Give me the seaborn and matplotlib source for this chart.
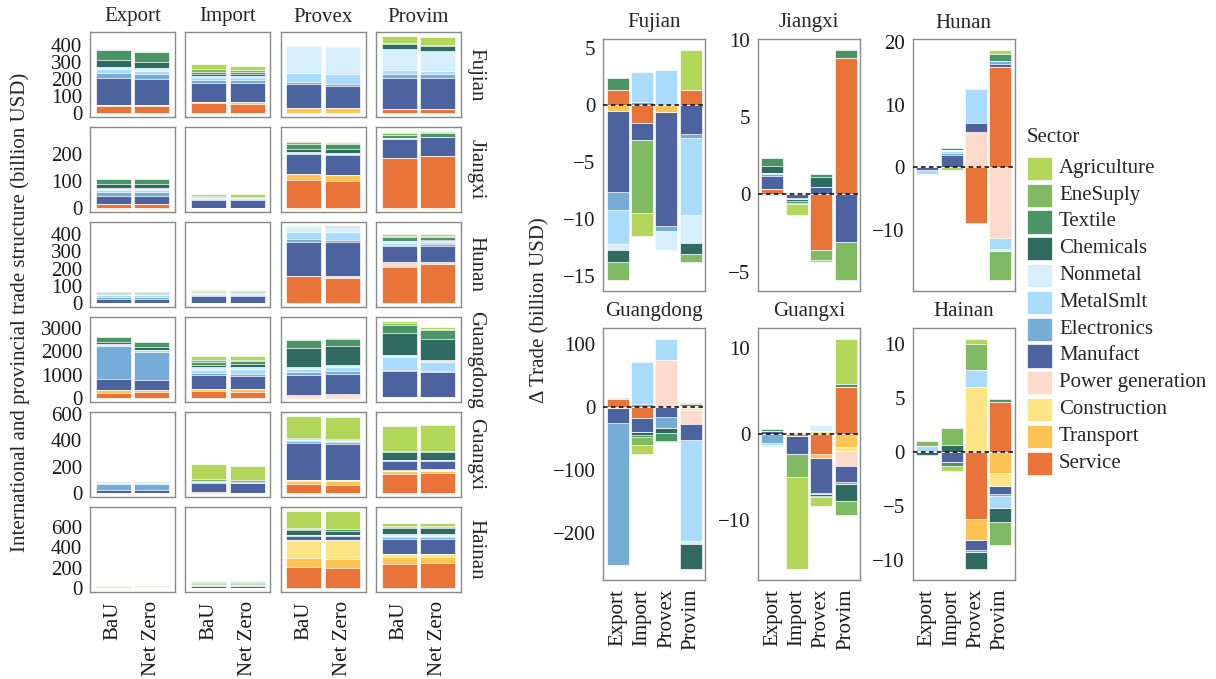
import numpy as np
import pandas as pd
import matplotlib
matplotlib.use("Agg")
import matplotlib.pyplot as plt
from matplotlib.patches import Rectangle
import seaborn as sns

# ---------------- data ----------------
sectors = ["Agriculture", "EneSuply", "Textile", "Chemicals", "Nonmetal", "MetalSmlt",
           "Electronics", "Manufact", "Power generation", "Construction", "Transport", "Service"]
sector_colors = ["#B2D65A", "#80BA62", "#4A9465", "#2F6B61", "#D7EEFC", "#A8DBFC",
                 "#75ACD8", "#4D63A0", "#FDDACB", "#FDE484", "#FDC454", "#E8743A"]
provinces = ["Fujian", "Jiangxi", "Hunan", "Guangdong", "Guangxi", "Hainan"]
trades = ["Export", "Import", "Provex", "Provim"]
scenarios = ["BaU", "Net Zero"]

# BaU trade by sector (billion USD); rows = Export, Import, Provex, Provim; columns follow `sectors`
fujian_bau = [[0, 3, 58, 39, 15, 23, 31, 156, 0, 0, 7, 43],
              [27, 18, 12, 12, 7, 15, 20, 110, 0, 0, 10, 58],
              [0, 0, 0, 0, 160, 53, 16, 138, 0, 0, 31, 0],
              [42, 3, 3, 31, 121, 23, 25, 185, 0, 0, 0, 23]]
jiangxi_bau = [[0, 0, 18, 15, 6, 7, 15, 29, 0, 0, 0, 16],
               [9, 2, 1, 2, 2, 3, 4, 29, 0, 0, 0, 0],
               [5, 5, 18, 13, 2, 2, 2, 74, 0, 0, 24, 102],
               [3, 8, 12, 0, 1, 1, 1, 72, 0, 0, 0, 183]]
hunan_bau = [[0, 0, 7, 3, 8, 12, 10, 25, 0, 0, 0, 0],
             [6, 4, 5, 4, 4, 6, 8, 39, 0, 0, 0, 0],
             [0, 1, 2, 2, 29, 40, 14, 197, 5, 0, 0, 155],
             [10, 10, 19, 4, 8, 12, 10, 93, 27, 0, 0, 209]]
guangdong_bau = [[0, 10, 200, 110, 30, 60, 1420, 460, 0, 0, 110, 230],
                 [185, 60, 120, 120, 100, 145, 100, 570, 0, 0, 100, 300],
                 [10, 10, 345, 815, 70, 145, 130, 870, 70, 0, 0, 50],
                 [100, 60, 370, 940, 70, 570, 50, 1085, 30, 20, 10, 5]]
guangxi_bau = [[0, 1, 4, 4, 2, 8, 42, 25, 0, 0, 0, 0],
               [116, 15, 0, 8, 0, 0, 5, 71, 0, 0, 0, 5],
               [165, 4, 2, 2, 10, 10, 10, 278, 0, 12, 25, 66],
               [190, 3, 5, 58, 0, 0, 10, 66, 8, 3, 20, 147]]
hainan_bau = [[2, 4, 4, 2, 0, 2, 0, 0, 0, 0, 0, 4],
              [5, 12, 4, 17, 0, 3, 3, 22, 0, 0, 0, 0],
              [172, 5, 13, 45, 0, 5, 3, 42, 0, 179, 88, 205],
              [26, 10, 10, 65, 13, 16, 16, 147, 0, 33, 62, 241]]

# Change (Net Zero - BaU) by sector (billion USD)
fujian_delta = [[0, -1.5, 1.1, -1.1, -0.5, -3.0, -1.6, -7.1, 0, 0, -0.5, 1.3],
                [-2.0, -6.4, 0, 0.05, 0, 2.6, 0.3, -1.5, 0, 0, 0, -1.6],
                [0, 0, 0, 0, -1.7, 3.1, -0.4, -10.0, 0, 0, -0.6, 0],
                [3.5, -0.7, 0, -1.0, -2.5, -6.75, -0.35, -2.5, 0, 0, 0, 1.3]]
jiangxi_delta = [[0, 0, 0.5, 0.45, -0.1, 0.1, 0.1, 0.85, 0, 0, 0, 0.35],
                 [-0.7, -0.1, -0.15, -0.1, 0, 0.1, -0.1, -0.2, 0, 0, 0, 0],
                 [-0.1, -0.65, 0.15, 0.7, 0, 0, 0, 0.45, 0, 0, 0, -3.6],
                 [0, -2.4, 0.5, 0, 0, 0, 0, -3.1, 0, 0, 0, 8.8]]
hunan_delta = [[0, 0, 0, 0, 0, -0.7, 0, -0.4, 0, 0, 0, 0],
               [-0.4, 0, 0.3, 0, 0.15, 0.3, 0.3, 2.0, 0, 0, 0, 0],
               [0, -0.1, 0, 0, 0, 5.4, 0, 1.5, 5.6, 0, 0, -8.8],
               [0.5, -4.6, 1.2, 0, -0.2, -1.9, 0.4, 0.55, -11.2, 0, 0, 16.0]]
guangdong_delta = [[0, -1, 3, 0, 0, 0, -224, -24, 0, 0, -2, 12],
                   [-15, -13, -3, -4, 0, 68, 4, -23, 0, 0, 0, -17],
                   [0, -1, -13, -8, 0, 33, -17, -16, 74, 0, 0, 0],
                   [0, 2, 2, -39, -5, -159, 0, -26, -22, -3, -2, 2]]
guangxi_delta = [[0, -0.15, 0.2, 0, 0, -0.25, -1.0, 0.4, 0, 0, 0, 0],
                 [-10.6, -2.7, 0, 0, 0, 0.1, 0, -2.1, 0, 0, 0, -0.2],
                 [-1.0, 0, -0.15, -0.2, 0.7, 0, -0.2, -4.0, 0, 0.4, -0.5, -2.3],
                 [5.2, -1.7, 0.3, -1.9, 0, 0, -0.2, -1.9, -1.8, -0.4, -1.5, 5.5]]
hainan_delta = [[0, 0.5, 0, -0.3, 0, 0.4, 0, 0, 0, 0, 0, 0.1],
                [-0.5, 1.6, -0.4, 0.6, 0, 0, 0, -0.9, 0, 0, 0, 0],
                [0.4, 2.4, 0, -1.5, 0, 1.6, -0.2, -0.9, 0, 6.0, -2.0, -6.2],
                [0, -2.1, 0.3, -1.3, 0, -1.1, -0.2, -0.7, 0, -1.2, -2.0, 4.6]]

bau = dict(zip(provinces, [fujian_bau, jiangxi_bau, hunan_bau, guangdong_bau, guangxi_bau, hainan_bau]))
delta = dict(zip(provinces, [fujian_delta, jiangxi_delta, hunan_delta, guangdong_delta, guangxi_delta, hainan_delta]))

# ---------------- long tables ----------------
rows = []
for p in provinces:
    for ti, t in enumerate(trades):
        for si, s in enumerate(sectors):
            b = bau[p][ti][si]
            d = delta[p][ti][si]
            rows.append((p, t, "BaU", s, b))
            rows.append((p, t, "Net Zero", s, b + d))
level_df = pd.DataFrame(rows, columns=["province", "trade", "scenario", "sector", "value"])
drows = []
for p in provinces:
    for ti, t in enumerate(trades):
        for si, s in enumerate(sectors):
            drows.append((p, t, s, delta[p][ti][si]))
delta_df = pd.DataFrame(drows, columns=["province", "trade", "sector", "value"])

# stacking: bottom layer = last sector (Service); compute cumulative tops per sign
def stack_tops(df, group_cols):
    out = []
    for key, g in df.groupby(group_cols, sort=False):
        g = g.set_index("sector").reindex(sectors)
        vals = g["value"].to_numpy()
        pos = np.where(vals > 0, vals, 0.0)[::-1].cumsum()[::-1]
        neg = np.where(vals < 0, vals, 0.0)[::-1].cumsum()[::-1]
        for s, pv, nv in zip(sectors, pos, neg):
            rec = dict(zip(group_cols, key if isinstance(key, tuple) else (key,)))
            rec.update(sector=s, pos=pv, neg=nv)
            out.append(rec)
    return pd.DataFrame(out)

level_stack = stack_tops(level_df, ["province", "trade", "scenario"])
delta_stack = stack_tops(delta_df, ["province", "trade"])

# ---------------- style ----------------
sns.set_style("white")
plt.rcParams["font.family"] = ["Liberation Serif", "DejaVu Serif"]
plt.rcParams["axes.unicode_minus"] = True
FS = 15
BORDER = "#8a8a8a"
TICKC = "#555555"

W, H = 1216, 679
fig = plt.figure(figsize=(W / 100, H / 100), dpi=100)

def add_ax(left, top, w, h):
    return fig.add_axes([left / W, 1 - (top + h) / H, w / W, h / H])

def style_ax(ax):
    for sp in ax.spines.values():
        sp.set_color(BORDER)
        sp.set_linewidth(1.0)
        sp.set_visible(True)
    ax.tick_params(axis="both", colors=TICKC, labelcolor="#1a1a1a", labelsize=FS,
                   length=3.5, width=0.8, pad=2, direction="out")
    ax.set_xlabel("")
    ax.set_ylabel("")

def draw_stack(ax, data, xcol, order):
    common = dict(x=xcol, hue="sector", hue_order=sectors, palette=sector_colors,
                  order=order, dodge=False, width=0.9, errorbar=None, saturation=1,
                  edgecolor="white", linewidth=0.5, legend=False, ax=ax)
    sns.barplot(data=data, y="pos", **common)
    if (data["neg"] < 0).any():
        sns.barplot(data=data, y="neg", **common)

# ---------------- left: levels grid ----------------
left_ticks = {"Fujian": [0, 100, 200, 300, 400], "Jiangxi": [0, 100, 200],
              "Hunan": [0, 100, 200, 300, 400], "Guangdong": [0, 1000, 2000, 3000],
              "Guangxi": [0, 200, 400, 600], "Hainan": [0, 200, 400, 600]}
col_left = [90, 185.3, 280.6, 376]
row_top = [32 + 95 * i for i in range(6)]
PW, PH = 85, 85

for i, p in enumerate(provinces):
    sub_p = level_stack[level_stack["province"] == p]
    ymax = sub_p["pos"].max()
    for j, t in enumerate(trades):
        ax = add_ax(col_left[j], row_top[i], PW, PH)
        sub = sub_p[sub_p["trade"] == t]
        draw_stack(ax, sub, "scenario", scenarios)
        style_ax(ax)
        ax.set_xlim(-0.6, 1.6)
        ax.set_ylim(-0.05 * ymax, 1.05 * ymax)
        if j == 0:
            ax.set_yticks(left_ticks[p])
        else:
            ax.set_yticks([])
        if i == 5:
            ax.set_xticks([0, 1])
            ax.set_xticklabels(scenarios, rotation=90, va="top", ha="center")
            ax.tick_params(axis="x", pad=3)
        else:
            ax.set_xticks([])
        if i == 0:
            fig.text((col_left[j] + PW / 2) / W, 1 - 17 / H, t, ha="center", va="center", fontsize=FS)
    fig.text(476 / W, 1 - (row_top[i] + PH / 2) / H, p, rotation=-90, ha="center", va="center", fontsize=FS)

fig.text(20 / W, 1 - 312 / H, "International and provincial trade structure (billion USD)",
         rotation=90, ha="center", va="center", fontsize=FS)

# ---------------- right: change panels ----------------
right_ticks = {"Fujian": [-15, -10, -5, 0, 5], "Jiangxi": [-5, 0, 5, 10], "Hunan": [-10, 0, 10, 20],
               "Guangdong": [-200, -100, 0, 100], "Guangxi": [-10, 0, 10], "Hainan": [-10, -5, 0, 5, 10]}
rcol_left = [603, 757.8, 912.5]
rrow_top = [39, 328]
RW, RH = 102.5, 252

for k, p in enumerate(provinces):
    r, c = divmod(k, 3)
    ax = add_ax(rcol_left[c], rrow_top[r], RW, RH)
    sub = delta_stack[delta_stack["province"] == p]
    draw_stack(ax, sub, "trade", trades)
    style_ax(ax)
    ax.axhline(0, color="black", linestyle=(0, (3, 2.2)), linewidth=1.1, zorder=10)
    ymin, ymax = sub["neg"].min(), sub["pos"].max()
    rng = ymax - ymin
    ax.set_xlim(-0.6, 3.6)
    ax.set_ylim(ymin - 0.05 * rng, ymax + 0.05 * rng)
    ax.set_yticks(right_ticks[p])
    if r == 1:
        ax.set_xticks(range(4))
        ax.set_xticklabels(trades, rotation=90, va="top", ha="center")
        ax.tick_params(axis="x", pad=3)
    else:
        ax.set_xticks([])
    fig.text((rcol_left[c] + RW / 2) / W, 1 - (rrow_top[r] - 16) / H, p, ha="center", va="center", fontsize=FS)

fig.text(540 / W, 1 - 310 / H, "\u0394 Trade (billion USD)", rotation=90, ha="center", va="center", fontsize=FS)

# ---------------- legend ----------------
fig.text(1027 / W, 1 - 138 / H, "Sector", ha="left", va="center", fontsize=FS)
for n, (s, col) in enumerate(zip(sectors, sector_colors)):
    top = 156.7 + 26.8 * n
    fig.add_artist(Rectangle((1027 / W, 1 - (top + 23.3) / H), 24.5 / W, 23.3 / H,
                             transform=fig.transFigure, facecolor=col, edgecolor="white", linewidth=0.5))
    fig.text(1059 / W, 1 - (top + 11.7) / H, s, ha="left", va="center", fontsize=FS)

fig.savefig("out.png", dpi=100)
